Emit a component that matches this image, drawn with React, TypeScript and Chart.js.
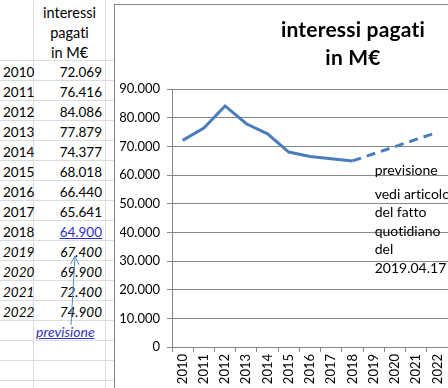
import React, { useEffect, useRef } from 'react';
import { Chart, registerables } from 'chart.js';

Chart.register(...registerables);

const years = ['2010', '2011', '2012', '2013', '2014', '2015', '2016', '2017', '2018', '2019', '2020', '2021', '2022'];
const interest = [72069, 76416, 84086, 77879, 74377, 68018, 66440, 65641, 64900, 67400, 69900, 72400, 74900];
const forecastFrom = 9; // index of first forecast year (2019)
const linkedIndex = 8; // 2018 value shown as link
const headerLines = ['interessi', 'pagati', 'in M€'];
const chartTitle = ['interessi pagati', 'in M€'];
const forecastLabel = 'previsione';
const noteLines = ['vedi articolo', 'del fatto', 'quotidiano', 'del', '2019.04.17'];
const yMin = 0;
const yMax = 90000;
const yStep = 10000;

const FONT = 'Lato, "Liberation Sans", sans-serif';
const GRID = '#dadcdd';
const AXIS = '#868686';

function fmt(v: number): string {
  const n = Math.round(Number(v));
  if (n < 1000) return String(n);
  return `${Math.floor(n / 1000)}.${String(n % 1000).padStart(3, '0')}`;
}

const overlayPlugin = {
  id: 'overlayText',
  afterDraw(chart: any) {
    const ctx = chart.ctx;
    const area = chart.chartArea;
    const xs = chart.scales.x;
    ctx.save();
    try {
      (ctx as any).letterSpacing = '0.2px';
    } catch (e) {}
    ctx.fillStyle = '#000';
    ctx.textAlign = 'center';
    ctx.textBaseline = 'middle';
    ctx.font = `bold 21px ${FONT}`;
    const tx = 238;
    ctx.fillText(chartTitle[0], tx, 25);
    ctx.fillText(chartTitle[1], tx, 53);
    try {
      (ctx as any).letterSpacing = '0px';
    } catch (e) {}
    ctx.textAlign = 'left';
    ctx.font = `14px ${FONT}`;
    const nx = xs.getPixelForValue(forecastFrom) + 1;
    const top = area.top;
    ctx.fillText(forecastLabel, nx, top + 81);
    noteLines.forEach((t, i) => ctx.fillText(t, nx, top + 105 + i * 18.6));
    ctx.restore();
  },
};

function ChartBox() {
  const ref = useRef<HTMLCanvasElement | null>(null);
  useEffect(() => {
    if (!ref.current) return;
    const chart = new Chart(ref.current, {
      type: 'line',
      data: {
        labels: years,
        datasets: [
          {
            data: interest,
            borderColor: '#4a7ebb',
            borderWidth: 3,
            pointRadius: 0,
            tension: 0,
            fill: false,
            segment: {
              borderDash: (c: any) => (c.p1DataIndex >= forecastFrom ? [9, 6] : undefined),
            },
          },
        ],
      },
      options: {
        animation: false,
        responsive: false,
        layout: { padding: { top: 84, left: 5, right: 0, bottom: 0 } },
        plugins: {
          legend: { display: false },
          tooltip: { enabled: false },
          title: { display: false },
        },
        scales: {
          x: {
            offset: true,
            afterFit: (s: any) => {
              s.height = 41;
              s.paddingLeft = 0;
              s.paddingRight = 0;
            },
            grid: { offset: true, drawOnChartArea: false, drawTicks: true, tickLength: 5, color: AXIS },
            border: { color: AXIS },
            ticks: {
              minRotation: 90,
              maxRotation: 90,
              autoSkip: false,
              color: '#000',
              padding: 2,
              font: { family: FONT, size: 13 },
            },
          },
          y: {
            min: yMin,
            max: yMax,
            afterFit: (s: any) => {
              s.width = 52;
            },
            grid: { color: AXIS, tickLength: 5 },
            border: { color: AXIS },
            ticks: {
              stepSize: yStep,
              color: '#000',
              padding: 7,
              font: { family: FONT, size: 13 },
              callback: (v: any) => fmt(v),
            },
          },
        },
      },
      plugins: [overlayPlugin],
    } as any);
    return () => chart.destroy();
  }, []);
  return <canvas ref={ref} width={333} height={383} style={{ display: 'block' }} />;
}

export default function App() {
  const rowTop = 60;
  const rowH = 20;
  const gridRows = Array.from({ length: 17 }, (_, i) => rowTop + i * rowH);
  return (
    <div
      style={{
        position: 'fixed',
        left: 0,
        top: 0,
        width: 448,
        height: 388,
        overflow: 'hidden',
        background: '#fff',
        fontFamily: FONT,
        fontVariantLigatures: 'none',
        color: '#000',
      }}
    >
      {/* spreadsheet grid */}
      {gridRows.map((y) => (
        <div key={'r' + y} style={{ position: 'absolute', left: 0, top: y, width: 114, height: 1, background: GRID }} />
      ))}
      <div style={{ position: 'absolute', left: 33, top: 0, width: 1, height: 388, background: GRID }} />
      <div style={{ position: 'absolute', left: 105, top: 0, width: 1, height: 388, background: GRID }} />

      {/* header */}
      {headerLines.map((t, i) => (
        <div
          key={'h' + i}
          style={{ position: 'absolute', left: 34, width: 71, top: 3 + i * 20, height: 20, lineHeight: '20px', textAlign: 'center', fontSize: 14.5 }}
        >
          {t}
        </div>
      ))}

      {/* rows */}
      {years.map((y, i) => {
        const italic = i >= forecastFrom;
        const link = i === linkedIndex;
        return (
          <React.Fragment key={y}>
            <div
              style={{ position: 'absolute', left: 3, top: rowTop + i * rowH + 2, height: 20, lineHeight: '20px', fontSize: 13.5, fontStyle: italic ? 'italic' : 'normal' }}
            >
              {y}
            </div>
            <div
              style={{
                position: 'absolute',
                left: 34,
                width: 68,
                textAlign: 'right',
                top: rowTop + i * rowH + 2,
                height: 20,
                lineHeight: '20px',
                fontSize: 13.5,
                fontStyle: italic ? 'italic' : 'normal',
                color: link ? '#2f2fc8' : '#000',
                textDecoration: link ? 'underline' : 'none',
              }}
            >
              {fmt(interest[i])}
            </div>
          </React.Fragment>
        );
      })}
      <div
        style={{
          position: 'absolute',
          left: 36,
          top: rowTop + years.length * rowH + 2,
          height: 20,
          lineHeight: '20px',
          fontSize: 14,
          fontStyle: 'italic',
          color: '#3333bb',
          textDecoration: 'underline',
        }}
      >
        {forecastLabel}
      </div>

      {/* arrow */}
      <svg width={448} height={388} style={{ position: 'absolute', left: 0, top: 0, pointerEvents: 'none' }}>
        <line x1={71} y1={325} x2={75} y2={256} stroke="#5b86c0" strokeWidth={1} />
        <line x1={75} y1={256} x2={70.5} y2={264} stroke="#5b86c0" strokeWidth={1} />
        <line x1={75} y1={256} x2={79} y2={264.5} stroke="#5b86c0" strokeWidth={1} />
      </svg>

      {/* chart frame */}
      <div
        style={{
          position: 'absolute',
          left: 114,
          top: 4,
          width: 400,
          height: 420,
          background: '#fff',
          borderLeft: `1px solid ${AXIS}`,
          borderTop: `1px solid ${AXIS}`,
        }}
      >
        <ChartBox />
      </div>
    </div>
  );
}
